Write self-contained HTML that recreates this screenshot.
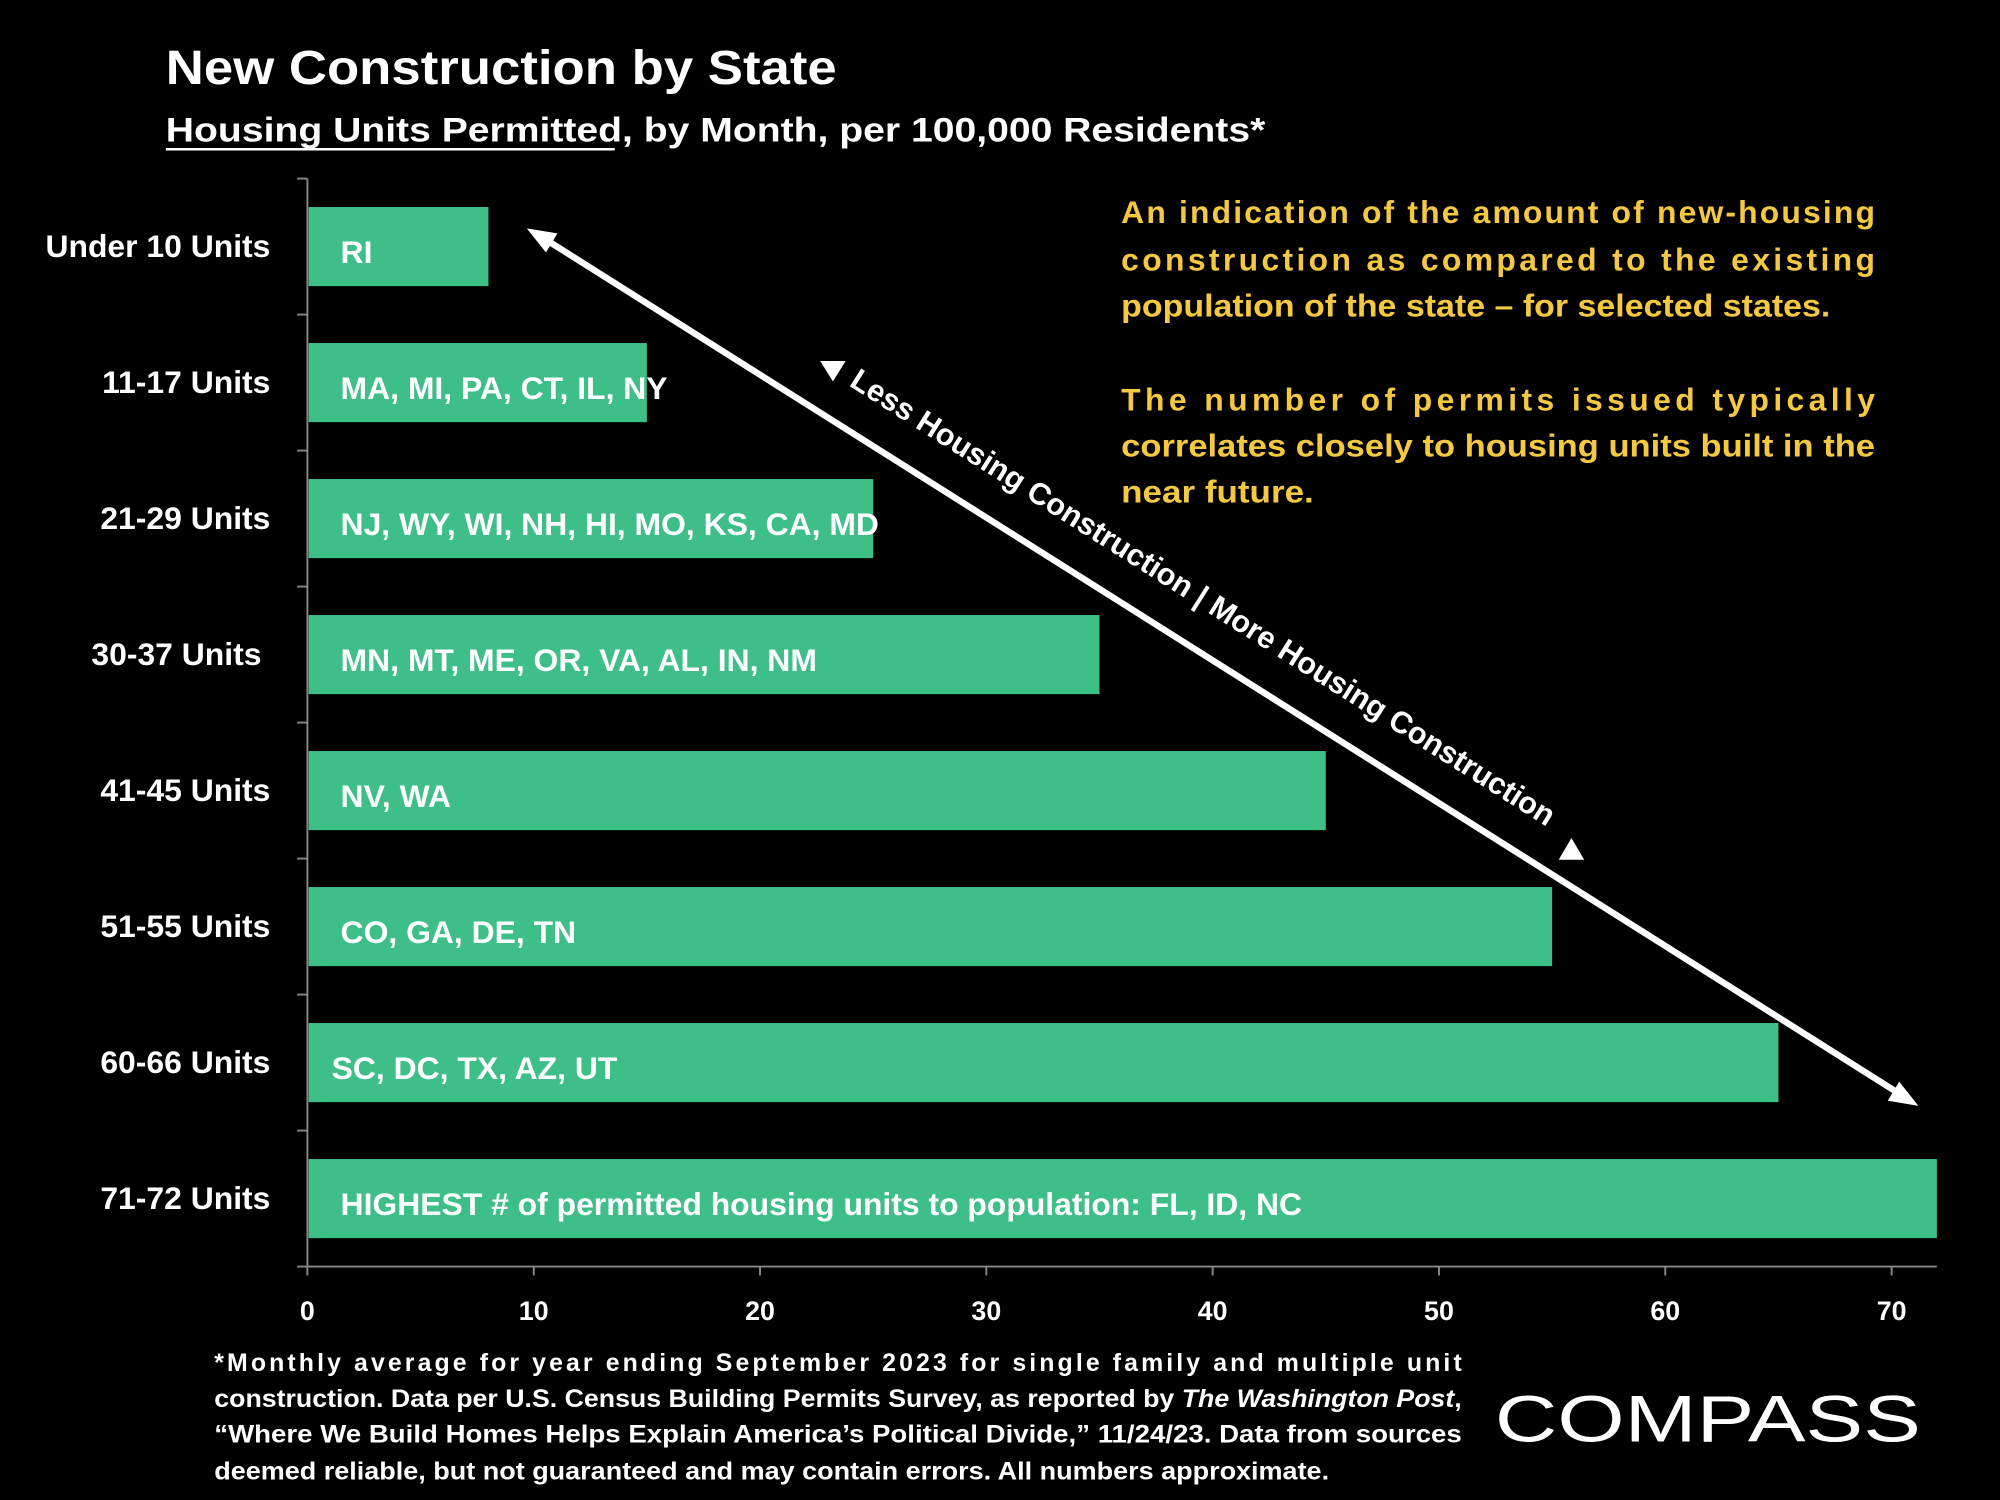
<!DOCTYPE html>
<html><head><meta charset="utf-8"><style>
html,body{margin:0;padding:0;background:#000;}
svg{display:block;}
text{font-family:"Liberation Sans",sans-serif;font-weight:bold;}
</style></head><body>
<svg id="chart" width="2000" height="1500" viewBox="0 0 1568 1176" xmlns="http://www.w3.org/2000/svg">
<rect width="1568" height="1176" fill="#000"/>
<text x="130" y="66" fill="#fff" font-size="38" textLength="526" lengthAdjust="spacingAndGlyphs">New Construction by State</text>
<text x="130" y="111" fill="#fff" font-size="27" textLength="862" lengthAdjust="spacingAndGlyphs">Housing Units Permitted, by Month, per 100,000 Residents*</text>
<line x1="130" y1="117" x2="482" y2="117" stroke="#fff" stroke-width="2"/>
<g id="plot"></g>
<g fill="#f5c842" font-size="25">
<text x="879" y="175" textLength="591" lengthAdjust="spacing">An indication of the amount of new-housing</text>
<text x="879" y="212" textLength="591" lengthAdjust="spacing">construction as compared to the existing</text>
<text x="879" y="248" textLength="556" lengthAdjust="spacingAndGlyphs">population of the state – for selected states.</text>
<text x="879" y="322" textLength="591" lengthAdjust="spacing">The number of permits issued typically</text>
<text x="879" y="358" textLength="591" lengthAdjust="spacingAndGlyphs">correlates closely to housing units built in the</text>
<text x="879" y="394" textLength="151" lengthAdjust="spacingAndGlyphs">near future.</text>
</g>
<g>
<line x1="425" y1="186" x2="1490" y2="858" stroke="#fff" stroke-width="5"/>
<polygon points="413,179 437,183 428,198" fill="#fff"/>
<polygon points="1504,867 1480,863 1489,848" fill="#fff"/>
<polygon points="643,283 663,283 653,299" fill="#fff"/>
<polygon points="1222,674 1242,674 1232,657" fill="#fff"/>
<text transform="translate(665,302) rotate(32.3)" fill="#fff" font-size="24" textLength="648" lengthAdjust="spacingAndGlyphs">Less Housing Construction | More Housing Construction</text>
</g>
<g fill="#fff" font-size="19.5">
<text x="168" y="1075" textLength="978" lengthAdjust="spacing">*Monthly average for year ending September 2023 for single family and multiple unit</text>
<text x="168" y="1103" textLength="978" lengthAdjust="spacingAndGlyphs">construction. Data per U.S. Census Building Permits Survey, as reported by <tspan font-style="italic">The Washington Post</tspan>,</text>
<text x="168" y="1131" textLength="978" lengthAdjust="spacingAndGlyphs">“Where We Build Homes Helps Explain America’s Political Divide,” 11/24/23. Data from sources</text>
<text x="168" y="1160" textLength="874" lengthAdjust="spacingAndGlyphs">deemed reliable, but not guaranteed and may contain errors. All numbers approximate.</text>
</g>
<text x="1172" y="1130" fill="#fff" font-size="52" style="font-weight:normal" textLength="334" lengthAdjust="spacingAndGlyphs">COMPASS</text>
</svg>
<script>
const categories = ["Under 10 Units","11-17 Units","21-29 Units","30-37 Units","41-45 Units","51-55 Units","60-66 Units","71-72 Units"];
const values = [8,15,25,35,45,55,65,72];
const barLabels = ["RI","MA, MI, PA, CT, IL, NY","NJ, WY, WI, NH, HI, MO, KS, CA, MD","MN, MT, ME, OR, VA, AL, IN, NM","NV, WA","CO, GA, DE, TN","SC, DC,  TX, AZ, UT","HIGHEST # of permitted housing units to population:  FL, ID, NC"];
const xTicks = [0,10,20,30,40,50,60,70];

const NS = "http://www.w3.org/2000/svg";
const plot = document.getElementById('plot');
const X0 = 241, XU = 17.743, YT = 140, YB = 993;
const band = (YB - YT) / categories.length;
const xs = v => X0 + v * XU;
function mk(tag, attrs){const e=document.createElementNS(NS,tag);for(const k in attrs)e.setAttribute(k,attrs[k]);plot.appendChild(e);return e;}

categories.forEach((c,i)=>{
  const cy = YT + band*i + band/2;
  const r = mk('rect',{x:xs(0)+1,y:cy-31,width:xs(values[i])-xs(0)-1,height:62,fill:'#3fbf88'});
  
  
  const t = mk('text',{x:(i===6?260:267),y:cy+13,fill:'#fff','font-size':25});
  t.textContent = barLabels[i];
  
  
  const l = mk('text',{x:(i===3?205:212),y:cy+8,fill:'#fff','font-size':25,'text-anchor':'end'});
  l.textContent = categories[i];
  
  
});
for(let i=0;i<=categories.length;i++){
  const y = YT + band*i;
  const tk = mk('line',{x1:233,y1:y,x2:241,y2:y,stroke:'#888','stroke-width':1.5});
  
  
}
const ya = mk('line',{x1:241,y1:YT,x2:241,y2:YB,stroke:'#888','stroke-width':1.5});


const xa = mk('line',{x1:241,y1:YB,x2:xs(72),y2:YB,stroke:'#888','stroke-width':1.5});


xTicks.forEach(v=>{
  const tk = mk('line',{x1:xs(v),y1:YB,x2:xs(v),y2:YB+7,stroke:'#888','stroke-width':1.5});
  
  
  const t = mk('text',{x:xs(v),y:1035,fill:'#fff','font-size':21,'text-anchor':'middle'});
  t.textContent = v;
  
  
});
</script>
</body></html>
